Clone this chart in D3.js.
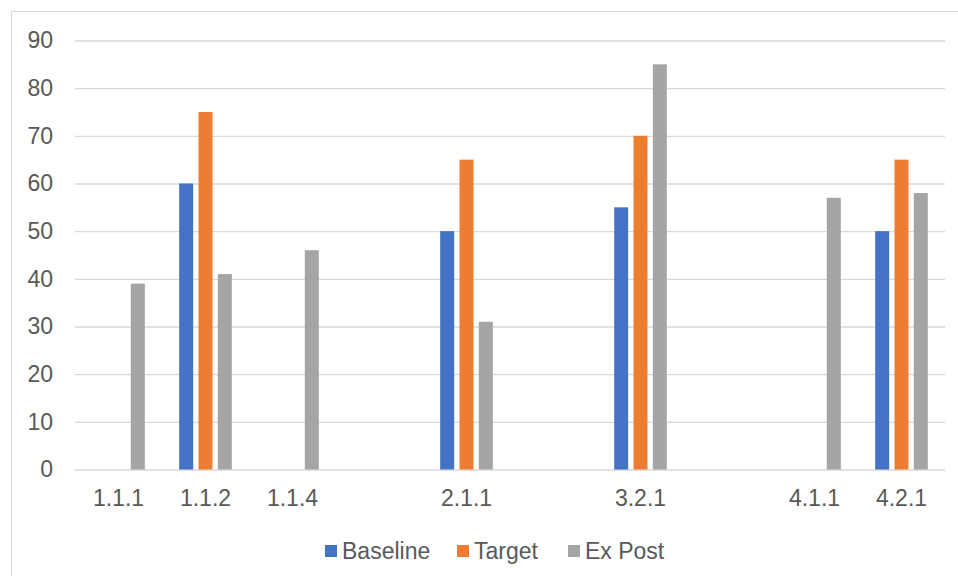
<!DOCTYPE html>
<html><head><meta charset="utf-8">
<script src="https://cdn.jsdelivr.net/npm/d3@7/dist/d3.min.js"></script>
<style>body{margin:0;background:#fff}svg{display:block}</style>
</head><body><svg id="c" width="958" height="576"></svg>
<script>
const categories = ["1.1.1","1.1.2","1.1.4","","2.1.1","","3.2.1","","4.1.1","4.2.1"];
const seriesNames = ["Baseline","Target","Ex Post"];
const baseline = [null,60,null,null,50,null,55,null,null,50];
const target   = [null,75,null,null,65,null,70,null,null,65];
const expost   = [39,41,46,null,31,null,85,null,57,58];
const yTicks = [0,10,20,30,40,50,60,70,80,90];
const colors = ["#4472C4","#ED7D31","#A5A5A5"];

const svg = d3.select("#c");
const font = "Liberation Sans, Arial, sans-serif";
const textColor = "#595959";
const fs = "23px";
const m = {l:75, r:13, t:40.5, b:106.5};
const W = 958, H = 576;

// chart border
svg.append("path").attr("d","M11.5,576 V11.5 H958").attr("fill","none").attr("stroke","#d9d9d9").attr("stroke-width",1);

const x = d3.scaleBand().domain(d3.range(categories.length)).range([m.l, W-m.r]).paddingInner(0).paddingOuter(0);
const y = d3.scaleLinear().domain([0,90]).range([H-m.b, m.t]);
const xs = d3.scaleBand().domain(d3.range(3)).range([0, x.bandwidth()]).paddingInner(0.275).paddingOuter(0.89);

// gridlines
const yAxis = d3.axisLeft(y).tickValues(yTicks).tickSize(-(W-m.r-m.l)).tickPadding(22);
const ga = svg.append("g").attr("transform",`translate(${m.l},0)`).call(yAxis);
ga.select(".domain").remove();
ga.selectAll(".tick line").attr("stroke","#d9d9d9").attr("stroke-width",1.3);
ga.selectAll(".tick text").attr("fill",textColor).style("font-family",font).style("font-size",fs);

const data = [baseline, target, expost];
data.forEach((arr,si)=>{
  svg.append("g").selectAll("rect").data(arr.map((v,i)=>({v,i})).filter(d=>d.v!=null)).join("rect")
    .attr("x",d=>x(d.i)+xs(si)).attr("width",xs.bandwidth())
    .attr("y",d=>y(d.v)).attr("height",d=>y(0)-y(d.v)).attr("fill",colors[si]);
});

// x axis labels
const xAxis = d3.axisBottom(x).tickFormat(i=>categories[i]).tickSize(0).tickPadding(20);
const gx = svg.append("g").attr("transform",`translate(0,${y(0)})`).call(xAxis);
gx.select(".domain").remove();
gx.selectAll(".tick text").attr("fill",textColor).style("font-family",font).style("font-size",fs);

// legend
const lg = svg.append("g").attr("transform","translate(0,551)");
const items = [{x:325},{x:457},{x:568}];
seriesNames.forEach((n,i)=>{
  const g = lg.append("g").attr("transform",`translate(${items[i].x},0)`);
  g.append("rect").attr("x",0).attr("y",-6).attr("width",12).attr("height",12).attr("fill",colors[i]);
  g.append("text").attr("x",17).attr("y",0).attr("dy","0.35em").attr("fill",textColor)
   .style("font-family",font).style("font-size",fs).text(n);
});
</script></body></html>
